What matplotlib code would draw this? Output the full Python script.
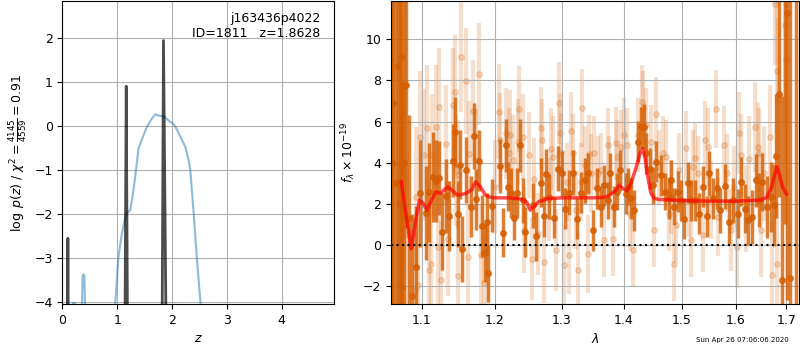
import numpy as np
import matplotlib
matplotlib.use('Agg')
import matplotlib.pyplot as plt
from matplotlib.ticker import NullLocator, FixedLocator, FixedFormatter

plt.rcParams['font.size'] = 9

# p(z) panel
z_spikes = [0.0, 0.085, 0.10, 0.115, 1.12, 1.165, 1.21, 1.80, 1.845, 1.93, 4.95]
logp_spikes = [-10, -10, -2.55, -10, -10, 0.91, -10, -10, 1.95, -10, -10]

z_pz = [0.17, 0.19, 0.23, 0.25, 0.35, 0.37, 0.385, 0.40, 0.415, 0.44, 0.9, 0.963, 1.024,
        1.086, 1.164, 1.238, 1.28, 1.329, 1.39, 1.45, 1.543, 1.62, 1.695, 1.76, 1.846,
        1.969, 2.03, 2.079, 2.152, 2.243, 2.304, 2.335, 2.396, 2.457, 2.517, 2.6]
logp_pz = [-4.5, -4.02, -4.02, -4.5, -4.5, -3.4, -3.37, -3.4, -4.2, -6, -6, -4.05, -2.97,
           -2.44, -1.99, -1.91, -1.6, -1.15, -0.5, -0.3, -0.01, 0.15, 0.27, 0.24, 0.23,
           0.10, 0.05, -0.05, -0.23, -0.47, -0.77, -1.0, -1.98, -3.05, -3.96, -6]

# spectrum: primary beam
dark_wave = [1.0610, 1.0626, 1.0660, 1.0689, 1.0715, 1.0733, 1.0745, 1.0770, 1.0788, 1.0831,
             1.0875, 1.0927, 1.0970, 1.1049,
             1.1092, 1.1145, 1.1189, 1.1234, 1.1269, 1.1323, 1.1367, 1.1412, 1.1448, 1.1479,
             1.1511, 1.1538, 1.1592, 1.1660, 1.1706, 1.1737, 1.1774, 1.1819, 1.1856, 1.1888,
             1.1911, 1.1965, 1.2074, 1.2119, 1.2159, 1.2193, 1.2233, 1.2282, 1.2322, 1.2371,
             1.2407, 1.2445, 1.2555, 1.2604, 1.2678, 1.2727, 1.2753, 1.2802, 1.2886, 1.2941,
             1.3000, 1.3054, 1.3107, 1.3179, 1.3244, 1.3298, 1.3363, 1.3407, 1.3489, 1.3560,
             1.3625, 1.3680, 1.3735, 1.3778, 1.3833, 1.3887, 1.3941, 1.4035, 1.4074, 1.4120,
             1.4166, 1.4236, 1.4292, 1.4339, 1.4379, 1.4436, 1.4495, 1.4553, 1.4640, 1.4697,
             1.4767, 1.4814, 1.4860, 1.4930, 1.4988, 1.5051, 1.5114, 1.5175, 1.5237, 1.5312,
             1.5394, 1.5455, 1.5498, 1.5580, 1.5642, 1.5703, 1.5797, 1.5871, 1.5953, 1.6046,
             1.6108, 1.6171, 1.6246, 1.6310, 1.6392, 1.6455, 1.6519, 1.6615, 1.6691, 1.6741,
             1.6793, 1.6856, 1.6902, 1.6960, 1.7010, 1.7062, 1.7185]
dark_flux = [4.0, 6.9, 3.0, 8.7, 2.0, 9.15, -2.05, 4.0, 7.8, 1.3,
             -2.5, -1.1, 2.5, 1.55,
             2.55, 3.3, 3.1, 3.25, 0.64, 2.35, 1.4, 4.1, 5.5, 1.5,
             3.9, -0.2, 3.65, 1.85, 5.3, 2.2, 4.1, 0.9, -0.4, 1.1,
             -1.4, 1.9, 3.83, 0.59, 4.84, 2.82, 2.52, 1.32, 2.52, 4.84,
             2.17, 0.62, 1.92, 0.41, 3.01, 1.38, 3.44, 2.33, 1.32, 3.71,
             3.47, 1.76, 2.52, 3.50, 1.27, 2.52, 3.14, 3.47, 0.70, 2.74,
             1.84, 2.90, 2.17, 3.47, 1.84, 2.57, 3.63, 2.49, 2.82, 2.25,
             1.68, 5.02, 5.72, 5.75, 4.45, 3.71, 2.90, 4.04, 3.39, 2.57,
             2.25, 3.14, 1.84, 2.57, 2.17, 1.27, 3.01, 2.17, 2.17, 1.51,
             2.82, 1.38, 3.47, 2.25, 2.74, 1.68, 2.85, 1.11, 2.17, 1.51,
             3.06, 1.76, 1.19, 1.35, 3.14, 2.17, 3.06, 1.84, 2.33, 1.92,
             4.32, 7.33, -1.74, 13.0, 11.29, -1.61, -4.0]
dark_err = [15, 14, 14, 14, 13, 12, 10, 9, 7, 5,
            4, 3.0, 2.6, 2.3,
            2.4, 2.2, 2.0, 1.8, 1.9, 1.8, 1.7, 1.8, 1.7, 1.6,
            1.7, 1.6, 1.6, 1.5, 1.6, 1.5, 1.5, 1.5, 1.4, 1.4,
            1.4, 1.3, 1.3, 1.2, 1.3, 1.2, 1.2, 1.1, 1.2, 1.3,
            1.1, 1.2, 1.1, 1.2, 1.2, 1.0, 1.2, 1.1, 1.0, 1.1,
            1.1, 1.0, 1.1, 1.1, 1.0, 1.0, 1.1, 1.0, 1.0, 1.0,
            1.0, 1.0, 0.9, 1.0, 1.0, 0.9, 1.0, 1.0, 0.9, 1.0,
            1.0, 1.0, 1.0, 1.1, 1.0, 1.0, 0.9, 1.0, 1.0, 0.9,
            1.0, 1.0, 0.9, 1.0, 1.0, 1.0, 1.0, 1.0, 1.0, 1.0,
            1.0, 1.0, 1.1, 1.0, 1.0, 1.1, 1.1, 1.1, 1.1, 1.2,
            1.2, 1.2, 1.2, 1.3, 1.3, 1.3, 1.4, 1.5, 1.7, 2.0,
            3.0, 5.0, 9.0, 12, 14, 14, 18]

# spectrum: secondary beam
light_wave = [1.0700, 1.0747, 1.0774, 1.0810, 1.0906, 1.0927, 1.0950, 1.0970, 1.1035, 1.1066,
              1.1092, 1.1123, 1.1136, 1.1189, 1.1210, 1.1234, 1.1256, 1.1323, 1.1343, 1.1412,
              1.1439, 1.1457, 1.1479, 1.1488, 1.1533, 1.1601, 1.1628, 1.1637, 1.1692, 1.1737,
              1.1774, 1.1810, 1.1842, 1.1911, 1.2000, 1.2059, 1.2074, 1.2159, 1.2208, 1.2223,
              1.2259, 1.2334, 1.2357, 1.2407, 1.2431, 1.2505, 1.2541, 1.2570, 1.2630, 1.2689,
              1.2703, 1.2727, 1.2802, 1.2828, 1.2868, 1.2906, 1.2951, 1.2966, 1.2991, 1.3035,
              1.3079, 1.3113, 1.3143, 1.3179, 1.3216, 1.3248, 1.3298, 1.3316, 1.3363, 1.3407,
              1.3433, 1.3460, 1.3515, 1.3571, 1.3625, 1.3680, 1.3735, 1.3761, 1.3817, 1.3871,
              1.3887, 1.3952, 1.4008, 1.4052, 1.4106, 1.4159, 1.4236, 1.4302, 1.4318, 1.4379,
              1.4466, 1.4510, 1.4553, 1.4604, 1.4662, 1.4719, 1.4775, 1.4814, 1.4860, 1.4904,
              1.4960, 1.5082, 1.5125, 1.5160, 1.5207, 1.5237, 1.5300, 1.5394, 1.5425, 1.5488,
              1.5537, 1.5623, 1.5673, 1.5778, 1.5829, 1.5911, 1.5962, 1.6018, 1.6066, 1.6108,
              1.6200, 1.6265, 1.6378, 1.6424, 1.6455, 1.6486, 1.6549, 1.6664, 1.6711, 1.6774,
              1.6811, 1.6818, 1.6837, 1.6970, 1.6989]
light_flux = [-1.9, 6.4, 3.3, 0.5, -2.23, 2.33, -1.99, 5.26, 4.36, 5.67,
              -1.22, -0.93, 4.36, 5.75, -0.11, 6.69, -1.74, 4.9, 0.29, 6.8,
              7.43, 3.63, -1.55, 3.39, 9.14, 7.98, -0.6, 4.41, 6.51, 4.12,
              8.32, -0.52, -1.87, -1.45, 2.8, 6.48, 5.1, 5.42, 4.48, 5.34,
              4.12, 5.02, 6.6, 5.26, 0.7, 4.36, -0.68, 3.18, 0.54, 5.67,
              5.1, -0.85, 2.2, 4.64, 4.28, -0.28, 6.89, 5.46, 4.53, -0.98,
              3.06, -0.52, 5.55, 4.45, 1.68, -1.22, 3.06, 6.64, 3.88, -0.44,
              4.41, 3.47, 4.45, 3.47, 3.63, 0.21, 4.85, 3.47, 0.29, 4.93,
              4.28, 4.77, 5.34, 4.85, 1.51, -0.28, 5.34, 6.97, 6.64, 5.83,
              5.02, 0.7, 6.37, 3.79, 4.45, 4.28, 1.51, 2.33, -0.93, 0.94,
              3.63, 4.69, 2.17, 0.21, 3.79, 4.2, 3.47, 0.46, 5.1, 4.77,
              2.17, 6.6, 1.35, 4.85, 3.47, 0.7, 2.82, -0.11, 5.42, 4.36,
              1.76, 4.15, 5.72, 4.77, 4.45, 0.7, 3.47, 5.26, -1.5, 11.74,
              -0.93, 8.44, 7.05, 10.7, 9.0]
light_err = [6, 5, 4.5, 4, 3.5, 3.4, 3.3, 3.2, 3.2, 3.1,
             3.1, 3.0, 3.0, 3.0, 3.0, 2.9, 2.9, 2.9, 2.8, 2.8,
             2.8, 2.7, 2.7, 2.7, 2.7, 2.6, 2.6, 2.6, 2.5, 2.5,
             2.5, 2.5, 2.4, 2.4, 2.3, 2.3, 2.3, 2.2, 2.2, 2.2,
             2.2, 2.1, 2.1, 2.1, 2.1, 2.1, 2.0, 2.0, 2.0, 2.0,
             2.0, 2.0, 2.0, 2.0, 2.0, 2.0, 2.0, 1.9, 1.9, 1.9,
             1.9, 1.9, 1.9, 1.9, 1.9, 1.9, 1.9, 1.9, 1.9, 1.9,
             1.9, 1.9, 1.8, 1.8, 1.8, 1.8, 1.8, 1.8, 1.8, 1.8,
             1.8, 1.8, 1.8, 1.8, 1.8, 1.8, 1.8, 1.8, 1.8, 1.8,
             1.8, 1.8, 1.8, 1.8, 1.8, 1.8, 1.8, 1.8, 1.8, 1.8,
             1.8, 1.8, 1.8, 1.8, 1.8, 1.8, 1.8, 1.8, 1.9, 1.9,
             1.9, 1.9, 1.9, 1.9, 1.9, 2.0, 2.0, 2.0, 2.0, 2.0,
             2.1, 2.1, 2.2, 2.2, 2.2, 2.3, 2.3, 2.5, 2.6, 3.0,
             3.0, 4.0, 4.0, 5.0, 5.0]

# best-fit model
model_wave = [1.0733, 1.0800, 1.0862, 1.0920, 1.0970, 1.1020, 1.1066, 1.1130, 1.1189, 1.1250,
              1.1343, 1.1420, 1.1479, 1.1600, 1.1680, 1.1730, 1.1800, 1.1860, 1.1911, 1.2000,
              1.2200, 1.2400, 1.2470, 1.2519, 1.2570, 1.2650, 1.2800, 1.3000, 1.3500, 1.3650,
              1.3750, 1.3850, 1.3924, 1.4000, 1.4052, 1.4120, 1.4200, 1.4280, 1.4318, 1.4360,
              1.4400, 1.4460, 1.4520, 1.4604, 1.5000, 1.5500, 1.6000, 1.6486, 1.6600, 1.6700,
              1.6760, 1.6811, 1.6860, 1.6920, 1.7000]
model_flux = [3.06, 1.3, -0.2, 1.2, 2.17, 2.0, 1.68, 2.2, 2.57, 2.5,
              2.82, 2.6, 2.41, 2.5, 2.7, 3.06, 2.8, 2.45, 2.33, 2.28,
              2.28, 2.22, 2.05, 1.68, 1.85, 2.1, 2.25, 2.28, 2.28, 2.3,
              2.38, 2.6, 2.9, 2.7, 2.62, 3.0, 3.7, 4.5, 4.69, 4.2,
              3.4, 2.5, 2.25, 2.2, 2.15, 2.12, 2.12, 2.17, 2.3, 2.8,
              3.4, 3.79, 3.4, 2.8, 2.46]

target_name = 'j163436p4022'
target_id = 1811
z_best = 1.8628
stamp = 'Sun Apr 26 07:06:06 2020'

grism_color = (0.8352941176470589, 0.3686274509803922, 0.0)

fig = plt.figure(figsize=(8, 3.5), dpi=100)
ax1 = fig.add_axes([0.078, 0.131, 0.339, 0.866])
ax2 = fig.add_axes([0.489, 0.131, 0.510, 0.866])

ax1.plot(z_pz, logp_pz, color='tab:blue', alpha=0.5, lw=1.5)
ax1.plot(z_spikes, logp_spikes, color='k', alpha=0.7, lw=2)
ax1.set_xlim(0, 4.95)
ax1.set_ylim(-4.05, 2.85)
ax1.set_xticks([0, 1, 2, 3, 4])
ax1.set_yticks([-4, -3, -2, -1, 0, 1, 2])
ax1.set_xlabel('$z$')
ax1.set_ylabel(r'$\log\;p(z)$' + ' / ' + r'$\chi^2=\frac{4145}{4559}=0.91$')
ax1.text(0.95, 0.965, '{0}\nID={1}   z={2:.4f}'.format(target_name, target_id, z_best),
         transform=ax1.transAxes, ha='right', va='top', fontsize=9)
ax1.grid()

ax2.errorbar(light_wave, light_flux, yerr=light_err, color=grism_color, alpha=0.2,
             marker='o', ms=4, linestyle='None', elinewidth=3, zorder=1)
ax2.errorbar(dark_wave, dark_flux, yerr=dark_err, color=grism_color, alpha=0.8,
             marker='o', ms=4, linestyle='None', elinewidth=2.5, zorder=2)
ax2.plot(model_wave, model_flux, color='r', alpha=0.7, lw=2.5, zorder=3)
ax2.set_xscale('log')
ax2.set_xlim(1.0605, 1.726)
ax2.set_ylim(-2.9, 11.87)
ax2.plot([1.0605, 1.726], [0, 0], 'k:', lw=1.5, zorder=4)
xt = [1.1, 1.2, 1.3, 1.4, 1.5, 1.6, 1.7]
ax2.xaxis.set_major_locator(FixedLocator(xt))
ax2.xaxis.set_major_formatter(FixedFormatter(['{0:.1f}'.format(v) for v in xt]))
ax2.xaxis.set_minor_locator(NullLocator())
ax2.set_yticks([-2, 0, 2, 4, 6, 8, 10])
ax2.set_xlabel(r'$\lambda$')
ax2.set_ylabel(r'$f_\lambda\times10^{-19}$')
ax2.grid()

fig.text(0.9275, 0.028, stamp, ha='center', va='center', fontsize=5)

fig.savefig('out.png', dpi=100)
